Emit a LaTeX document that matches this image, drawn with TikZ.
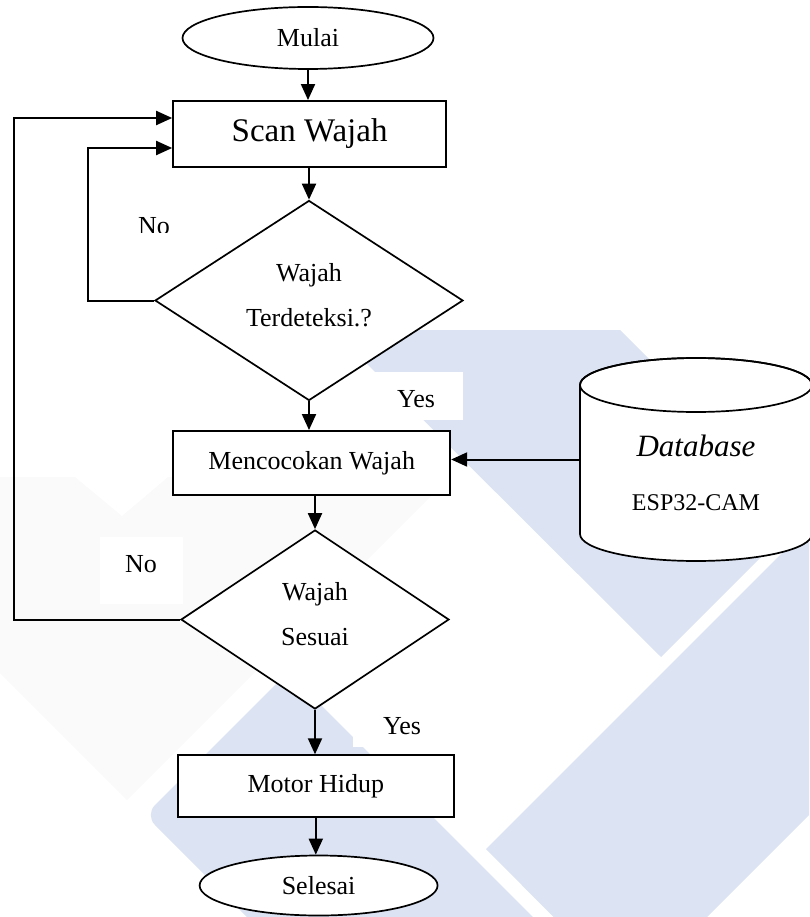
\documentclass[tikz,border=0pt]{standalone}
\usepackage{fontspec}
\setmainfont{Liberation Serif}
\usetikzlibrary{shapes.geometric,arrows.meta}
\definecolor{wmblue}{RGB}{220,227,242}
\definecolor{wmgray}{RGB}{250,250,250}
\begin{document}
\begin{tikzpicture}[x=1pt,y=-1pt,
  box/.style={draw, line width=1.9pt, fill=white, inner sep=0pt},
  term/.style={ellipse, draw, line width=1.7pt, fill=white, inner sep=0pt},
  dec/.style={diamond, aspect=1.5, draw, line width=1.7pt, fill=white, inner sep=0pt},
  arr/.style={line width=2pt, -{Triangle[length=16pt,width=14pt]}},
  txt/.style={font=\fontsize{26}{45}\selectfont},
  dtxt/.style={font=\fontsize{26}{45}\selectfont, align=center}]
\useasboundingbox (0,0) rectangle (809,917);
% watermark
\begin{scope}
\clip (0,0) rectangle (809,917);
\fill[wmgray] (0,477) -- (75,477) -- (122,516) -- (168,477) -- (450,477) -- (127,800) -- (0,673) -- cycle;
\fill[wmblue] (333,330) -- (620,330) -- (804,514) -- (661,657) -- cycle;
\fill[wmblue] (486,849) -- (630,994) -- (1230,394) -- (1086,249) -- cycle;
\fill[wmblue, rounded corners=14pt] (145,815) -- (288,672) -- (608,992) -- (465,1135) -- cycle;
\end{scope}
% label backgrounds
\fill[white] (367,372) rectangle (463,420);
\fill[white] (100,537) rectangle (183,604);
\fill[white] (353,710) rectangle (450,747);
% nodes
\node[term, minimum width=251pt, minimum height=62pt, txt] (start) at (308,38) {Mulai};
\node[box, minimum width=273pt, minimum height=66pt, font=\fontsize{33}{38}\selectfont] (scan) at (309.6,134) {Scan Wajah};
\node[dec, minimum width=308pt, minimum height=200pt] (dec1) at (309,300.5) {};
\node[dtxt] (dec1t) at ([yshift=5pt]dec1.center) {Wajah\\Terdeteksi.?};
\node[box, minimum width=277pt, minimum height=64pt, txt] (match) at (311.7,463) {Mencocokan Wajah};
\node[dec, minimum width=268pt, minimum height=179pt] (dec2) at (315,619.5) {};
\node[dtxt] (dec2t) at ([yshift=5pt]dec2.center) {Wajah\\Sesuai};
\node[box, minimum width=276pt, minimum height=61.5pt, txt] (motor) at (315.8,786) {Motor Hidup};
\node[term, minimum width=238pt, minimum height=60pt, txt] (stop) at (318.6,885.5) {Selesai};
% database cylinder
\node[minimum width=232pt, minimum height=203pt, inner sep=0pt] (db) at (696,459.5) {};
\draw[line width=1.7pt, fill=white] (580,385) -- (580,534)
  arc[start angle=180, end angle=0, x radius=116, y radius=27] -- (812,385)
  arc[start angle=0, end angle=-180, x radius=116, y radius=27] -- cycle;
\draw[line width=1.7pt] (696,385) ellipse [x radius=116, y radius=27];
\node[font=\fontsize{31}{36}\selectfont\itshape] (dbname) at (696,446) {Database};
\node[font=\fontsize{24}{28}\selectfont] (dbchip) at (696,503) {ESP32-CAM};
% labels
\begin{scope}
\clip (100,195) rectangle (200,232);
\node[txt] (no1) at (154,226.6) {No};
\end{scope}
\node[txt] (yes1) at (416,399) {Yes};
\node[txt] (no2) at (141,564) {No};
\node[txt] (yes2) at (402,726) {Yes};
% connectors
\coordinate (l1) at (88,300);
\coordinate (l2) at (14.4,621);
\draw[arr] (start.south) -- (start.south |- scan.north);
\draw[arr] (dec1.north |- scan.south) -- (dec1.north);
\draw[arr] (dec1.south) -- (dec1.south |- match.north);
\draw[arr] (dec2.north |- match.south) -- (dec2.north);
\draw[arr] (dec2.south) -- (dec2.south |- motor.north);
\draw[arr] (motor.south) -- (motor.south |- stop.north);
\draw[arr] (db.west) -- (db.west -| match.east);
\draw[arr] (dec1.west) -- (dec1.west -| l1) |- ([yshift=-14pt]scan.west);
\draw[arr] (dec2.west) -- (dec2.west -| l2) |- ([yshift=16pt]scan.west);
\end{tikzpicture}
\end{document}
